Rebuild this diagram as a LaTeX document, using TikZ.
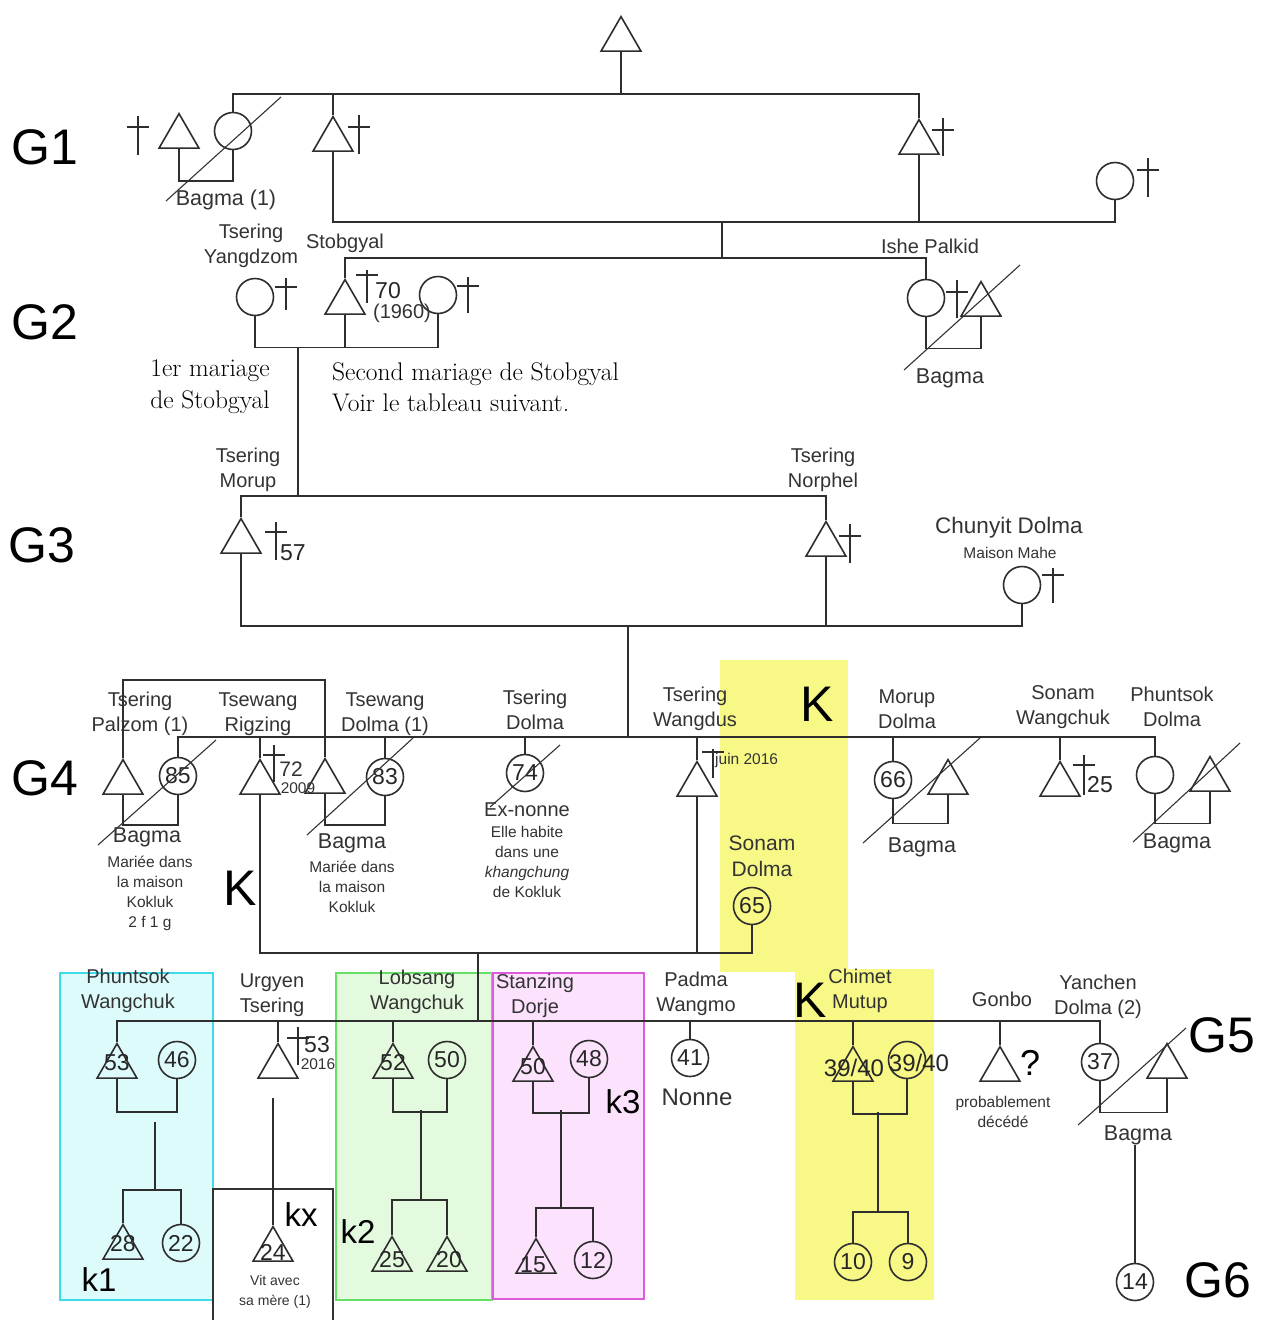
\documentclass[tikz,border=0pt]{standalone}
\usepackage{fontspec}
\newfontfamily\arial{Liberation Sans}
\usetikzlibrary{shapes.geometric}
\definecolor{cyanbg}{RGB}{222,251,252}
\definecolor{cyanbd}{RGB}{60,220,235}
\definecolor{greenbg}{RGB}{228,250,222}
\definecolor{greenbd}{RGB}{100,225,100}
\definecolor{pinkbg}{RGB}{252,226,252}
\definecolor{pinkbd}{RGB}{220,90,220}
\definecolor{yel}{RGB}{248,248,135}
\newcommand\crs[4]{\draw[ln] (#1,#2) -- (#1,#3) (#1-11,#4) -- (#1+11,#4);}
\tikzset{
  ln/.style={line width=1.6pt, draw=black!82},
  sl/.style={line width=1.1pt, draw=black!80},
  tri/.style={regular polygon, regular polygon sides=3, minimum size=46pt, inner sep=0pt, draw=black!82, line width=1.6pt, anchor=north},
  cir/.style={circle, minimum size=37pt, inner sep=0pt, draw=black!82, line width=1.6pt, font=\arial\fontsize{23}{23}\selectfont, text=black!85},
  nm/.style={font=\arial\fontsize{20}{25}\selectfont, align=center, inner sep=0pt, text=black!80},
  bg/.style={font=\arial\fontsize{21.5}{25}\selectfont, inner sep=0pt, text=black!80},
  sm/.style={font=\arial\fontsize{15.5}{20}\selectfont, align=center, inner sep=0pt, text=black!80},
  num/.style={font=\arial\fontsize{23}{23}\selectfont, inner sep=0pt, text=black!85},
  gen/.style={font=\arial\fontsize{50}{50}\selectfont, inner sep=0pt},
  kk/.style={font=\arial\fontsize{33}{33}\selectfont, inner sep=0pt},
  serif/.style={font=\fontsize{25.5}{32}\selectfont, inner sep=0pt, text=black},
}
\begin{document}
\begin{tikzpicture}[x=1pt,y=-1pt]
\useasboundingbox[fill=white] (0,0) rectangle (1272,1320);
% coloured boxes
\path[fill=cyanbg,draw=cyanbd,line width=1.5pt] (60,973) rectangle (213,1300);
\path[fill=greenbg,draw=greenbd,line width=1.5pt] (336,973) rectangle (492,1300);
\path[fill=pinkbg,draw=pinkbd,line width=1.5pt] (493,973) rectangle (644,1299);
\path[fill=yel] (720,660) rectangle (848,972);
\path[fill=yel] (795,969) rectangle (934,1300);
\draw[line width=1.3pt,black!80] (213,1189) rectangle (333,1330);

% generation labels
\node[gen] (G1) at (45,147) {G1};
\node[gen] (G2) at (45,322) {G2};
\node[gen] (G3) at (42,545) {G3};
\node[gen] (G4) at (45,778) {G4};
\node[gen] (G5) at (1222,1035) {G5};
\node[gen] (G6) at (1218,1280) {G6};

% ---------- G1 ----------
\node[tri] (t0) at (621,15) {};
\node[tri] (tA) at (179,112) {};
\node[cir] (cA) at (233,131) {};
\node[tri] (tB) at (333,115) {};
\node[tri] (tC) at (919,118) {};
\node[cir] (cR) at (1115,181) {};
\crs{138}{116}{155}{127}
\crs{359}{115}{154}{127}
\crs{943}{118}{156}{130}
\crs{1148}{158}{197}{170}
\coordinate (g1t) at (621,94);
\coordinate (g1m) at (722,222);
\coordinate (g1r) at (1115,222);
\coordinate (g2m) at (722,258);
\draw[ln] (t0.south) -- (g1t);
\draw[ln] (cA.north) |- (g1t) -| (tC.north);
\draw[ln] (tB.north) -- (tB.north |- g1t);
\draw[ln] (tA.south) -- ++(0,32) -| (cA.south);
\draw[ln] (tB.south) |- (g1r) -- (cR.south);
\draw[ln] (tC.south) -- (tC.south |- g1r);
\draw[ln] (g1m) -- (g2m);
\draw[sl] (166,201) -- (281,97);
\node[bg] (lbg1) at (226,200) {Bagma (1)};

% ---------- G2 ----------
\node[nm] (nTY) at (251,246) {Tsering\\Yangdzom};
\node[nm] (nSt) at (345,243) {Stobgyal};
\node[cir] (cY) at (255,297) {};
\node[tri] (tS) at (345,278) {};
\node[cir] (cS2) at (438,295) {};
\crs{286}{278}{310}{287}
\crs{367}{270}{303}{275}
\crs{468}{277}{313}{286}
\node[num] (n70) at (388,291) {70};
\node[nm] (n1960) at (402,313) {(1960)};
\node[nm] (nIP) at (930,246) {Ishe Palkid};
\node[cir] (cI) at (926,298) {};
\node[tri] (tI) at (981,280) {};
\crs{957}{280}{318}{292}
\coordinate (g2l) at (345,258);
\coordinate (g2r) at (926,258);
\draw[ln] (tS.north) -- (g2l) -- (g2r) -- (cI.north);
\draw[ln] (cY.south) -- ++(0,31) -| (cS2.south);
\coordinate (g2b) at (298,347);
\coordinate (g3b) at (298,496);
\draw[ln] (tS.south) -- (tS.south |- g2b);
\draw[ln] (g2b) -- (g3b);
\draw[ln] (cI.south) -- ++(0,31) -| (tI.south);
\draw[sl] (904,370) -- (1020,265);
\node[bg] (lbg2) at (950,378) {Bagma};
\node[serif,anchor=base] (s1) at (210,376) {1er mariage};
\node[serif,anchor=base] (s2) at (210,408) {de Stobgyal};
\node[serif,anchor=base west] (s3) at (332,380) {Second mariage de Stobgyal};
\node[serif,anchor=base west] (s4) at (332,411) {Voir le tableau suivant.};

% ---------- G3 ----------
\node[nm] (nTM) at (248,470) {Tsering\\Morup};
\node[tri] (tM) at (241,517) {};
\crs{276}{522}{560}{532}
\node[num] (n57) at (293,553) {57};
\node[nm] (nTN) at (823,470) {Tsering\\Norphel};
\node[tri] (tN) at (826,520) {};
\crs{850}{524}{563}{536}
\node[nm,font=\arial\fontsize{22.5}{25}\selectfont] (nCD) at (1009,528) {Chunyit Dolma};
\node[sm] (nMM) at (1010,553) {Maison Mahe};
\node[cir] (cC) at (1022,585) {};
\crs{1053}{568}{603}{575}
\coordinate (g3l) at (241,496);
\coordinate (g3r) at (826,496);
\draw[ln] (tM.north) -- (g3l) -- (g3r) -- (tN.north);
\coordinate (g3m) at (628,626);
\coordinate (g3e) at (1022,626);
\draw[ln] (tM.south) |- (g3e) -- (cC.south);
\draw[ln] (tN.south) -- (tN.south |- g3e);
\coordinate (g4m) at (628,737);
\draw[ln] (g3m) -- (g4m);

% ---------- G4 ----------
\node[tri] (t4a) at (123,758) {};
\node[cir] (c85) at (178,776) {85};
\node[tri] (t4b) at (260,758) {};
\node[tri] (t4c) at (325,757) {};
\node[cir] (c83) at (385,777) {83};
\node[cir] (c74) at (525,773) {74};
\node[tri] (t4w) at (697,760) {};
\node[cir] (c65) at (752,906) {65};
\node[cir] (c66) at (893,780) {66};
\node[tri] (t4m) at (948,758) {};
\node[tri] (t4s) at (1060,760) {};
\node[cir] (cP) at (1155,775) {};
\node[tri] (t4p) at (1210,755) {};
\crs{274}{745}{782}{755}
\crs{713}{749}{778}{752}
\crs{1084}{755}{795}{765}
\coordinate (g4l) at (178,737);
\coordinate (g4r) at (1155,737);
\draw[ln] (c85.north) -- (g4l) -- (g4r) -- (cP.north);
\foreach \n in {t4b,c83,c74,t4w,c66,t4s} \draw[ln] (\n.north) -- (\n.north |- g4l);
\coordinate (g4top) at (220,680);
\draw[ln] (t4a.north) |- (g4top) -| (t4c.north);
\draw[ln] (t4a.south) -- ++(0,30) -| (c85.south);
\draw[ln] (t4c.south) -- ++(0,31) -| (c83.south);
\draw[ln] (c66.south) -- ++(0,24) -| (t4m.south);
\draw[ln] (cP.south) -- ++(0,29) -| (t4p.south);
\coordinate (g4d) at (478,953);
\coordinate (g5m) at (478,1021);
\draw[ln] (t4b.south) |- (c65.south |- g4d) -- (c65.south);
\draw[ln] (t4w.south) -- (t4w.south |- g4d);
\draw[ln] (g4d) -- (g5m);
\draw[sl] (98,845) -- (216,740);
\draw[sl] (307,835) -- (413,738);
\draw[sl] (490,807) -- (560,745);
\draw[sl] (863,843) -- (980,738);
\draw[sl] (1133,842) -- (1240,743);
\node[nm] (nTP) at (140,714) {Tsering\\Palzom (1)};
\node[nm] (nTR) at (258,714) {Tsewang\\Rigzing};
\node[nm] (nTD1) at (385,714) {Tsewang\\Dolma (1)};
\node[nm] (nTD) at (535,710) {Tsering\\Dolma};
\node[nm] (nTW) at (695,709) {Tsering\\Wangdus};
\node[nm] (nMD) at (907,709) {Morup\\Dolma};
\node[nm] (nSW) at (1063,707) {Sonam\\Wangchuk};
\node[nm] (nPD) at (1172,707) {Phuntsok\\Dolma};
\node[nm,font=\arial\fontsize{21}{21}\selectfont] (n72) at (291,769) {72};
\node[sm] (n2009) at (298,788) {2009};
\node[bg] (lbg3) at (147,837) {Bagma};
\node[sm] (nMar1) at (150,893) {Mariée dans\\la maison\\Kokluk\\2 f 1 g};
\node[bg] (lbg4) at (352,843) {Bagma};
\node[sm] (nMar2) at (352,887) {Mariée dans\\la maison\\Kokluk};
\node[gen] (K1) at (240,888) {K};
\node[nm] (nEx) at (527,810) {Ex-nonne};
\node[sm] (nElle) at (527,862) {Elle habite\\dans une\\\textit{khangchung}\\de Kokluk};
\node[sm,anchor=west] (njuin) at (715,760) {juin 2016};
\node[nm,font=\arial\fontsize{21}{26}\selectfont] (nSD) at (762,856) {Sonam\\Dolma};
\node[gen] (K2) at (817,704) {K};
\node[bg] (lbg5) at (922,847) {Bagma};
\node[num] (n25) at (1100,785) {25};
\node[bg] (lbg6) at (1177,843) {Bagma};

% ---------- G5 ----------
\node[tri] (t5a) at (117,1042) {};
\node[cir] (c46) at (177,1060) {46};
\node[tri] (t5u) at (278,1042) {};
\node[tri] (t5l) at (393,1042) {};
\node[cir] (c50) at (447,1060) {50};
\node[tri] (t5s) at (533,1045) {};
\node[cir] (c48) at (589,1059) {48};
\node[cir] (c41) at (690,1058) {41};
\node[tri] (t5c) at (853,1045) {};
\node[cir] (c3940) at (907,1060) {};
\node[tri] (t5g) at (1000,1045) {};
\node[cir] (c37) at (1100,1062) {37};
\node[tri] (t5y) at (1167,1042) {};
\crs{298}{1027}{1065}{1038}
\coordinate (g5l) at (117,1021);
\coordinate (g5r) at (1100,1021);
\draw[ln] (t5a.north) -- (g5l) -- (g5r) -- (c37.north);
\foreach \n in {t5u,t5l,t5s,c41,t5c,t5g} \draw[ln] (\n.north) -- (\n.north |- g5l);
\draw[ln] (t5a.south) -- ++(0,33) -| (c46.south);
\draw[ln] (t5l.south) -- ++(0,33) -| (c50.south);
\draw[ln] (t5s.south) -- ++(0,31) -| (c48.south);
\draw[ln] (t5c.south) -- ++(0,32) -| (c3940.south);
\draw[ln] (c37.south) -- ++(0,31) -| (t5y.south);
\draw[sl] (1078,1125) -- (1186,1028);
\node[num] (n53a) at (117,1063) {53};
\node[num] (n52) at (393,1063) {52};
\node[num] (n50t) at (533,1067) {50};
\node[num,font=\arial\fontsize{24}{24}\selectfont] (n3940a) at (854,1068) {39/40};
\node[num,font=\arial\fontsize{24}{24}\selectfont] (n3940b) at (919,1063) {39/40};
\node[num] (n53u) at (317,1045) {53};
\node[sm] (n2016) at (318,1064) {2016};
\node[nm] (nPW) at (128,991) {Phuntsok\\Wangchuk};
\node[nm] (nUT) at (272,995) {Urgyen\\Tsering};
\node[nm] (nLW) at (417,992) {Lobsang\\Wangchuk};
\node[nm] (nSZ) at (535,996) {Stanzing\\Dorje};
\node[nm] (nPM) at (696,994) {Padma\\Wangmo};
\node[nm,font=\arial\fontsize{24}{24}\selectfont] (nNonne) at (697,1097) {Nonne};
\node[nm] (nCM) at (860,991) {Chimet\\Mutup};
\node[gen] (K3) at (810,1000) {K};
\node[nm] (nGo) at (1002,999) {Gonbo};
\node[font=\arial\fontsize{36}{36}\selectfont,inner sep=0pt] (nQ) at (1030,1063) {?};
\node[sm] (nProb) at (1003,1112) {probablement\\décédé};
\node[nm] (nYD) at (1098,997) {Yanchen\\Dolma (2)};
\node[bg] (lbg7) at (1138,1135) {Bagma};
\node[kk] (k3) at (623,1102) {k3};

% ---------- G6 ----------
\node[tri] (t6a) at (123,1223) {};
\node[cir] (c22) at (181,1243) {22};
\node[tri] (t6u) at (273,1225) {};
\node[tri] (t6l1) at (392,1235) {};
\node[tri] (t6l2) at (447,1235) {};
\node[tri] (t6s) at (536,1237) {};
\node[cir] (c12) at (593,1260) {12};
\node[cir] (c10) at (853,1262) {10};
\node[cir] (c9) at (908,1262) {9};
\node[cir] (c14) at (1135,1282) {14};
\node[num] (n28) at (123,1244) {28};
\node[num] (n24) at (273,1252) {24};
\node[num] (n25b) at (392,1260) {25};
\node[num] (n20) at (449,1260) {20};
\node[num] (n15) at (533,1265) {15};
\coordinate (k1a) at (155,1122);
\coordinate (k1b) at (155,1190);
\draw[ln] (k1a) -- (k1b);
\draw[ln] (t6a.north) |- (k1b) -| (c22.north);
\coordinate (ua) at (273,1098);
\draw[ln] (ua) -- (t6u.north);
\coordinate (k2a) at (421,1110);
\coordinate (k2b) at (421,1200);
\draw[ln] (k2a) -- (k2b);
\draw[ln] (t6l1.north) |- (k2b) -| (t6l2.north);
\coordinate (k3a) at (561,1110);
\coordinate (k3b) at (561,1208);
\draw[ln] (k3a) -- (k3b);
\draw[ln] (t6s.north) |- (k3b) -| (c12.north);
\coordinate (kca) at (878,1112);
\coordinate (kcb) at (878,1212);
\draw[ln] (kca) -- (kcb);
\draw[ln] (c10.north) |- (kcb) -| (c9.north);
\coordinate (ya) at (1135,1145);
\draw[ln] (ya) -- (c14.north);
\node[kk] (k1) at (99,1280) {k1};
\node[kk] (kx) at (301,1215) {kx};
\node[kk] (k2) at (358,1232) {k2};
\node[sm,font=\arial\fontsize{14}{20}\selectfont] (nVit) at (275,1292) {Vit avec\\sa mère (1)};
\end{tikzpicture}
\end{document}
